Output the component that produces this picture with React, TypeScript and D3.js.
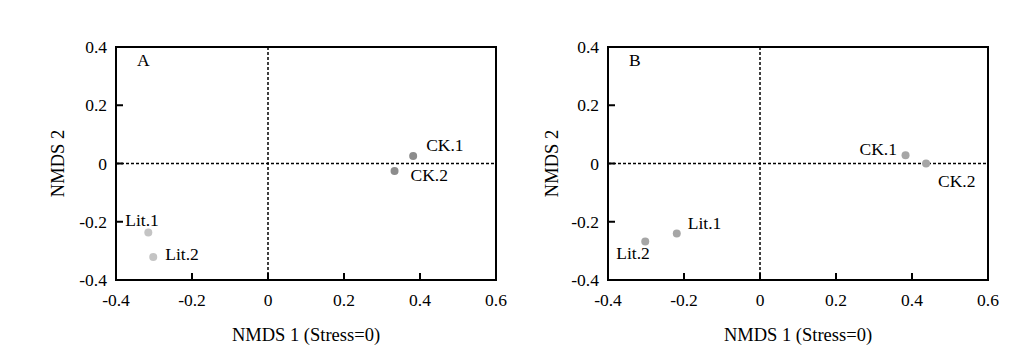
import React from 'react'
import { scaleLinear } from 'd3'

// NMDS scores
const sampleNames = ['CK.1', 'CK.2', 'Lit.1', 'Lit.2']
const nmds1A = [0.382, 0.333, -0.315, -0.302]
const nmds2A = [0.026, -0.026, -0.237, -0.321]
const nmds1B = [0.383, 0.437, -0.219, -0.302]
const nmds2B = [0.028, 0.0, -0.24, -0.268]
const xTicks = [-0.4, -0.2, 0, 0.2, 0.4, 0.6]
const yTicks = [-0.4, -0.2, 0, 0.2, 0.4]

const fmt = (v: number) => (v === 0 ? '0' : String(v))

type Panel = {
  letter: string
  xs: number[]
  ys: number[]
  left: number
  colors: string[]
  offsets: [number, number][]
  yTitleX: number
}

const panels: Panel[] = [
  {
    letter: 'A',
    xs: nmds1A,
    ys: nmds2A,
    left: 116,
    colors: ['#8c8c8c', '#8c8c8c', '#c4c4c4', '#c4c4c4'],
    offsets: [[13, -5], [16, 10], [-23, -7], [12, 3]],
    yTitleX: -52,
  },
  {
    letter: 'B',
    xs: nmds1B,
    ys: nmds2B,
    left: 608,
    colors: ['#a6a6a6', '#a6a6a6', '#a6a6a6', '#a6a6a6'],
    offsets: [[-46, 0], [12, 23], [11, -4], [-29, 17]],
    yTitleX: -50,
  },
]

const W = 380
const top = 47
const H = 233
const serif = 'Liberation Serif, Times New Roman, serif'

const ScatterPanel = ({ p }: { p: Panel }) => {
  const x = scaleLinear().domain([-0.4, 0.6]).range([0, W])
  const y = scaleLinear().domain([-0.4, 0.4]).range([H, 0])

  return (
    <g transform={`translate(${p.left}, ${top})`} fontFamily={serif} fontSize={17.5} fill="#000">
      <line x1={x(0)} x2={x(0)} y1={0} y2={H} stroke="#000" strokeWidth={1.5} strokeDasharray="3,2" />
      <line x1={0} x2={W} y1={y(0)} y2={y(0)} stroke="#000" strokeWidth={1.5} strokeDasharray="3,2" />
      <rect x={0} y={0} width={W} height={H} fill="none" stroke="#000" strokeWidth={2} />
      {xTicks.map((t) => (
        <g key={'x' + t}>
          <line x1={x(t)} x2={x(t)} y1={H} y2={H - 7} stroke="#000" strokeWidth={2} />
          <text x={x(t)} y={H + 26} textAnchor="middle" fontFamily={serif}>{fmt(t)}</text>
        </g>
      ))}
      {yTicks.map((t) => (
        <g key={'y' + t}>
          <line x1={0} x2={7} y1={y(t)} y2={y(t)} stroke="#000" strokeWidth={2} />
          <text x={-9} y={y(t) + 6} textAnchor="end" fontFamily={serif}>{fmt(t)}</text>
        </g>
      ))}
      <text x={21} y={19} fontFamily={serif}>{p.letter}</text>
      {p.xs.map((v, i) => (
        <g key={sampleNames[i]}>
          <circle cx={x(v)} cy={y(p.ys[i])} r={4} fill={p.colors[i]} />
          <text x={x(v) + p.offsets[i][0]} y={y(p.ys[i]) + p.offsets[i][1]} fontFamily={serif}>
            {sampleNames[i]}
          </text>
        </g>
      ))}
      <text x={W / 2} y={H + 61} textAnchor="middle" fontFamily={serif} fontSize={18.5}>
        NMDS 1 (Stress=0)
      </text>
      <text
        transform={`translate(${p.yTitleX}, ${H / 2}) rotate(-90)`}
        textAnchor="middle"
        fontFamily={serif}
        fontSize={18.5}
      >
        NMDS 2
      </text>
    </g>
  )
}

const App = () => (
  <svg width={1014} height={345} style={{ display: 'block' }}>
    <g transform="translate(-8, -8)">
      {panels.map((p) => (
        <ScatterPanel key={p.letter} p={p} />
      ))}
    </g>
  </svg>
)

export default App
